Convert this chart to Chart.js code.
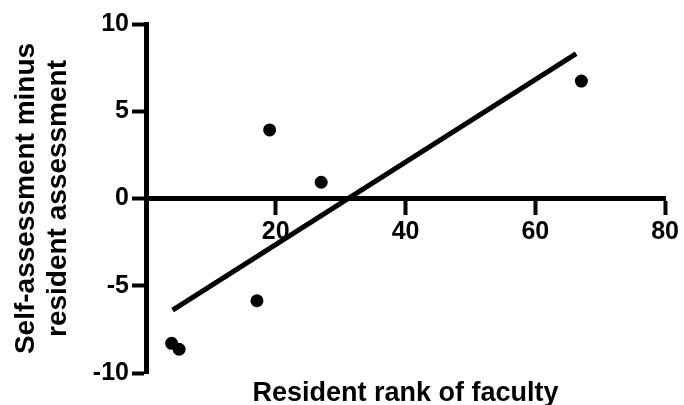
<!DOCTYPE html>
<html>
<head>
<meta charset="utf-8">
<script src="https://cdn.jsdelivr.net/npm/chart.js@4/dist/chart.umd.min.js"></script>
<style>
	body { margin: 0; background: #fff; }
	#wrap { width: 684px; height: 405px; }
</style>
</head>
<body>
<div id="wrap"><canvas id="chart-rank"></canvas></div>
<script>
// resident rank of each faculty member (x) and self minus resident score (y)
const rankX = [3.95, 5.1, 17.1, 19.05, 27.0, 67.1];
const diffY = [-8.3, -8.64, -5.86, 3.93, 0.93, 6.73];

// ends of the fitted regression line
const fitX = [4.1, 66.3];
const fitY = [-6.4, 8.3];

const xTicks = [0, 20, 40, 60, 80];
const yTicks = [-10, -5, 0, 5, 10];

const xTitle = 'Resident rank of faculty';
const yTitle = ['Self-assessment minus', 'resident assessment'];

Chart.defaults.color = '#000';
Chart.defaults.font.family = '"Liberation Sans", Arial, sans-serif';
Chart.defaults.font.weight = 'bold';

let points = rankX.map((x, i) => ({x: x, y: diffY[i]}));
let fitLine = fitX.map((x, i) => ({x: x, y: fitY[i]}));

let rankChartCtx = document.getElementById('chart-rank');
let rankChart = new Chart(rankChartCtx, {
	type: 'scatter',
	data: {
		datasets: [{
			label: 'Faculty',
			data: points,
			backgroundColor: '#000',
			borderWidth: 0,
			pointRadius: 6.5
		}, {
			label: 'Fit',
			data: fitLine,
			showLine: true,
			borderColor: '#000',
			borderWidth: 5,
			borderCapStyle: 'butt',
			pointRadius: 0
		}]
	},
	options: {
		responsive: true,
		maintainAspectRatio: false,
		animation: false,
		layout: {
			padding: {top: 24, right: 17, bottom: 0, left: 0}
		},
		plugins: {
			legend: { display: false },
			tooltip: { enabled: false }
		},
		scales: {
			x: {
				type: 'linear',
				position: {y: 0},
				min: xTicks[0],
				max: xTicks[xTicks.length - 1],
				afterBuildTicks: (axis) => { axis.ticks = xTicks.map(v => ({value: v})); },
				ticks: {
					font: { size: 25 },
					padding: 5,
					maxRotation: 0,
					callback: (v) => v === 0 ? '' : v
				},
				grid: {
					drawOnChartArea: false,
					tickLength: 14,
					tickWidth: 4,
					tickColor: '#000'
				},
				border: { width: 5, color: '#000' }
			},
			xTitle: {
				type: 'linear',
				axis: 'x',
				position: 'bottom',
				min: xTicks[0],
				max: xTicks[xTicks.length - 1],
				ticks: { display: false },
				grid: { display: false, drawTicks: false },
				border: { display: false },
				afterFit: (axis) => { axis.height = 32; },
				title: {
					display: true,
					text: xTitle,
					font: { size: 27, lineHeight: 0.88 },
					padding: {top: 0, bottom: 0}
				}
			},
			y: {
				type: 'linear',
				position: 'left',
				min: yTicks[0],
				max: yTicks[yTicks.length - 1],
				afterBuildTicks: (axis) => { axis.ticks = yTicks.map(v => ({value: v})); },
				afterFit: (axis) => { axis.width = 146; },
				ticks: {
					font: { size: 25 },
					padding: 3
				},
				grid: {
					drawOnChartArea: false,
					tickLength: 14,
					tickWidth: 4,
					tickColor: '#000'
				},
				border: { width: 5, color: '#000' },
				title: {
					display: true,
					text: yTitle,
					font: { size: 28, lineHeight: 1.14 },
					padding: {top: 10, bottom: 0}
				}
			}
		}
	}
});
</script>
</body>
</html>
